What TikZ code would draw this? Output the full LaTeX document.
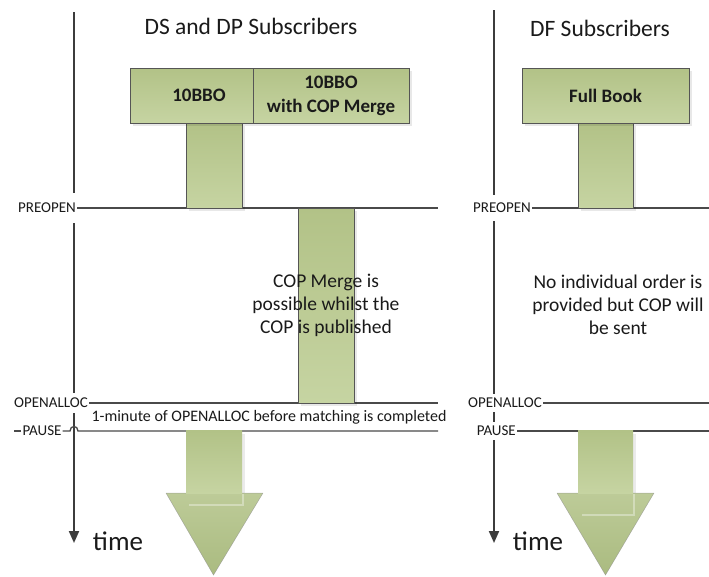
\documentclass[tikz,border=0pt]{standalone}
\usepackage{fontspec}
\setmainfont{Carlito}
\usetikzlibrary{arrows.meta,shadows}
\definecolor{gtop}{HTML}{B2C287}
\definecolor{gbot}{HTML}{C6D4A2}
\definecolor{htop}{HTML}{BDCB98}
\definecolor{hbot}{HTML}{AABB80}
\definecolor{edgegray}{HTML}{555555}
\definecolor{axisgray}{HTML}{3C3C3C}
\definecolor{levelgray}{HTML}{4A4A4A}
\definecolor{ink}{HTML}{1A1A1A}
\begin{document}
\begin{tikzpicture}[x=1pt,y=-1pt,
  every node/.style={text=ink},
  softshadow/.style={drop shadow={shadow xshift=3pt,shadow yshift=-3pt,opacity=.09,fill=black}},
  greenbox/.style={draw=edgegray, line width=0.7pt, top color=gtop, bottom color=gbot, softshadow,
    inner sep=0pt, font=\fontsize{19}{24}\selectfont\bfseries, align=center},
  stem/.style={draw=edgegray, line width=0.7pt, top color=gtop, bottom color=gbot, softshadow, inner sep=0pt},
  shaft/.style={top color=gtop, bottom color=gbot, draw=none, inner sep=0pt},
  head/.style={top color=htop, bottom color=hbot, draw=black!45, draw opacity=.6, line width=0.5pt, line join=round},
  axisline/.style={draw=axisgray, line width=2pt, -{Triangle[length=12pt,width=10pt]}},
  level/.style={draw=levelgray, line width=1.3pt},
  lvlabel/.style={fill=white, inner xsep=1pt, inner ysep=5pt, font=\fontsize{15}{18}\selectfont},
  title/.style={font=\fontsize{23.5}{28}\selectfont},
  note/.style={font=\fontsize{19.5}{23}\selectfont, align=center},
  timelabel/.style={font=\fontsize{27}{32}\selectfont}
]
\useasboundingbox[fill=white] (0,0) rectangle (709,576);

% ---------- time axes ----------
\coordinate (la0) at (74,12);
\coordinate (la1) at (74,543);
\coordinate (ra0) at (494,10);
\coordinate (ra1) at (494,543);
\draw[axisline] (la0) -- (la1);
\draw[axisline] (ra0) -- (ra1);

% ---------- level labels ----------
\node[lvlabel, anchor=east, inner ysep=10pt] (lpre) at (77,208) {PREOPEN};
\node[lvlabel, anchor=east] (lopen) at (89,403) {OPENALLOC};
\node[lvlabel, anchor=center, inner ysep=1pt] (lpause) at (42,431) {PAUSE};
\node[lvlabel, anchor=east, inner ysep=8pt] (rpre) at (532,208) {PREOPEN};
\node[lvlabel, anchor=east, inner ysep=4pt] (ropen) at (543,403) {OPENALLOC};
\node[lvlabel, anchor=east, inner ysep=4pt] (rpause) at (517,431) {PAUSE};

% ---------- level lines ----------
\coordinate (lpreE) at (438,208);
\coordinate (lopenE) at (438,403);
\coordinate (lpauseE) at (438,431);
\coordinate (lpauseW) at (14,431);
\coordinate (hopA) at (70,431);
\coordinate (hopB) at (78,431);
\coordinate (rpreE) at (709,208);
\coordinate (ropenE) at (709,403);
\coordinate (rpauseE) at (709,431);
\draw[level] (lpre.east) -- (lpreE);
\draw[level] (lopen.east) -- (lopenE);
\draw[level] (lpauseW) -- (lpause.west);
\draw[level] (lpause.east) -- (hopA) .. controls (70,425) and (78,425) .. (hopB) -- (lpauseE);
\draw[level] (rpre.east) -- (rpreE);
\draw[level] (ropen.east) -- (ropenE);
\draw[level] (rpause.east) -- (rpauseE);

% ---------- titles ----------
\node[title] (ltitle) at (251,26) {DS and DP Subscribers};
\node[title] (rtitle) at (600,28) {DF Subscribers};

% ---------- stems ----------
\node[stem, minimum width=56, minimum height=85] (stemA) at (214,165.5) {};
\node[stem, minimum width=56, minimum height=195] (stemB) at (326,305.5) {};
\node[stem, minimum width=55, minimum height=85] (stemC) at (605.5,165.5) {};

% ---------- boxes ----------
\node[greenbox, minimum width=123, minimum height=55] (boxA) at (191.5,95.5) {\hspace*{15pt}10BBO};
\node[greenbox, minimum width=156, minimum height=55] (boxB) at (331,95.5) {10BBO\\with COP Merge};
\node[greenbox, minimum width=167, minimum height=55] (boxC) at (605.5,95.5) {Full Book};

% ---------- notes ----------
\node[note] (noteB) at (326,305) {COP Merge is\\possible whilst the\\COP is published};
\node[note] (noteC) at (618,305) {No individual order is\\provided but COP will\\be sent};
\node[font=\fontsize{16}{19}\selectfont] (minute) at (269,417) {1-minute of OPENALLOC before matching is completed};

% ---------- big arrows ----------
\path[head] (166,493) -- (263,493) -- (213.5,575) -- cycle;
\fill[black, opacity=.08] (242,434) rectangle (245,493);
\node[shaft, minimum width=56, minimum height=62.5] (shaftL) at (214,462.2) {};
\draw[white, opacity=.35, line width=1.2pt] (189,505) -- (243,505) -- (243,494);

\path[head] (557,493) -- (654,493) -- (605.5,575) -- cycle;
\fill[black, opacity=.08] (633,434) rectangle (636,493);
\node[shaft, minimum width=55, minimum height=62.5] (shaftR) at (605.5,462.2) {};
\draw[white, opacity=.35, line width=1.2pt] (582,515) -- (634,515) -- (634,494);

% ---------- time labels ----------
\node[timelabel] (ltime) at (118,541) {time};
\node[timelabel] (rtime) at (538,541) {time};
\end{tikzpicture}
\end{document}
